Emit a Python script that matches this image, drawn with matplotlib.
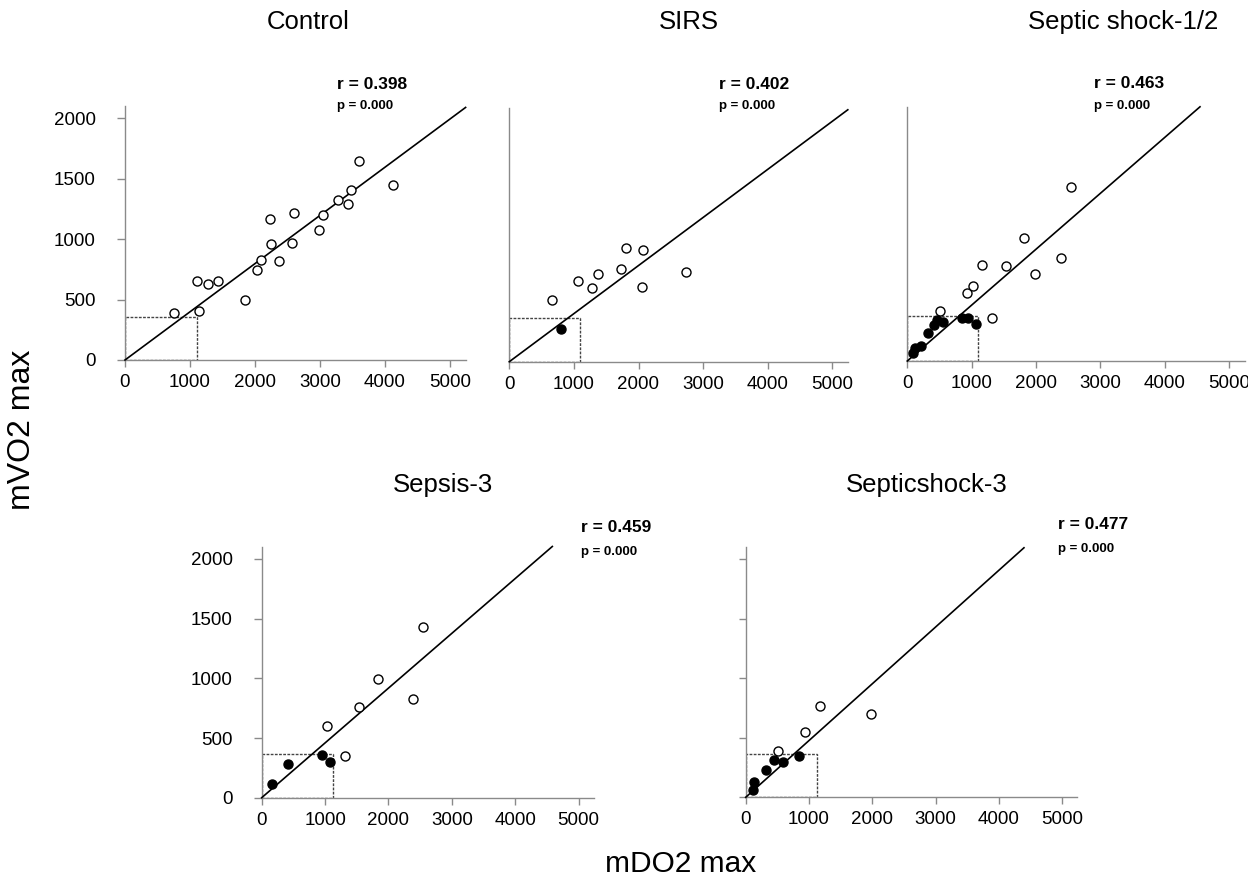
import matplotlib
matplotlib.use("Agg")
import matplotlib.pyplot as plt
from matplotlib.patches import Rectangle

plt.rcParams['font.family'] = ['Liberation Sans', 'DejaVu Sans']

W, H = 1248, 881

# ---------------- data ----------------
titles = ["Control", "SIRS", "Septic shock-1/2", "Sepsis-3", "Septicshock-3"]
r_labels = ["r = 0.398", "r = 0.402", "r = 0.463", "r = 0.459", "r = 0.477"]
p_labels = ["p = 0.000", "p = 0.000", "p = 0.000", "p = 0.000", "p = 0.000"]

control_open_x = [749, 1133, 1108, 1282, 1431, 1851, 2026, 2087, 2236, 2241, 2374, 2574, 2595, 2985, 3051, 3282, 3426, 3477, 3600, 4123]
control_open_y = [389, 408, 654, 629, 654, 494, 748, 828, 1170, 963, 820, 966, 1217, 1079, 1200, 1325, 1294, 1407, 1647, 1449]
control_fill_x = []
control_fill_y = []

sirs_open_x = [661, 1068, 1280, 1373, 1734, 1806, 2065, 2049, 2730]
sirs_open_y = [513, 671, 613, 726, 765, 938, 925, 616, 740]
sirs_fill_x = [800]
sirs_fill_y = [268]

ss12_open_x = [508, 922, 1020, 1165, 1320, 1528, 1812, 1988, 2387, 2547]
ss12_open_y = [411, 563, 623, 795, 356, 786, 1021, 720, 850, 1443]
ss12_fill_x = [93, 120, 213, 317, 420, 456, 559, 849, 948, 1071]
ss12_fill_y = [69, 110, 127, 234, 298, 339, 320, 359, 356, 306]

sep3_open_x = [1025, 1309, 1535, 1839, 2391, 2544]
sep3_open_y = [603, 349, 757, 997, 829, 1427]
sep3_fill_x = [162, 415, 951, 1072]
sep3_fill_y = [117, 282, 360, 296]

ss3_open_x = [510, 932, 1169, 1979]
ss3_open_y = [389, 546, 767, 700]
ss3_fill_x = [115, 136, 316, 452, 584, 847]
ss3_fill_y = [64, 126, 229, 313, 297, 344]

open_x = [control_open_x, sirs_open_x, ss12_open_x, sep3_open_x, ss3_open_x]
open_y = [control_open_y, sirs_open_y, ss12_open_y, sep3_open_y, ss3_open_y]
fill_x = [control_fill_x, sirs_fill_x, ss12_fill_x, sep3_fill_x, ss3_fill_x]
fill_y = [control_fill_y, sirs_fill_y, ss12_fill_y, sep3_fill_y, ss3_fill_y]

fit_slope = [0.399, 0.398, 0.463, 0.459, 0.477]
fit_xmax = [5240, 5240, 4545, 4584, 4396]

box_w = [1100, 1100, 1100, 1120, 1120]
box_h = [360, 365, 370, 370, 366]

x_ticks = [0, 1000, 2000, 3000, 4000, 5000]
y_ticks = [0, 500, 1000, 1500, 2000]
XMAX, YMAX = 5240, 2100

# ---------------- layout (pixels) ----------------
ax_geom = [
    (125.0, 360.0, 65.0, 60.4),
    (509.3, 361.7, 64.6, 60.4),
    (907.3, 361.0, 64.4, 60.4),
    (261.7, 797.7, 63.4, 59.7),
    (745.7, 797.3, 63.3, 59.5),
]
ytick_mode = ["label", "none", "none", "label", "ticks"]

title_pos = [(308, 29), (689, 29), (1123, 29), (443, 492), (927, 492)]
r_pos = [(337, 89), (719, 89), (1094, 88), (581, 532), (1058, 529)]
p_pos = [(337, 109), (719, 109), (1094, 109), (581, 555), (1058, 552)]

fig = plt.figure(figsize=(W / 100, H / 100), dpi=100)
fig.patch.set_facecolor('white')

def fx(px):
    return px / W

def fy(py):
    return 1 - py / H

gray = '#8a8a8a'
for i in range(5):
    left, bottom, sx, sy = ax_geom[i]
    width = XMAX / 1000 * sx
    height = YMAX / 500 * sy
    ax = fig.add_axes([fx(left), fy(bottom), width / W, height / H])
    ax.set_xlim(0, XMAX)
    ax.set_ylim(0, YMAX)
    for s in ['top', 'right']:
        ax.spines[s].set_visible(False)
    for s in ['left', 'bottom']:
        ax.spines[s].set_color(gray)
        ax.spines[s].set_linewidth(1.0)
    ax.set_xticks(x_ticks)
    ax.set_xticklabels([str(t) for t in x_ticks])
    ax.tick_params(axis='x', direction='out', length=5, width=1, color=gray,
                   labelsize=13.5, pad=5, labelcolor='black')
    if ytick_mode[i] == "label":
        ax.set_yticks(y_ticks)
        ax.set_yticklabels([str(t) for t in y_ticks])
        ax.tick_params(axis='y', direction='out', length=6, width=1, color=gray,
                       labelsize=13.5, pad=15, labelcolor='black')
    elif ytick_mode[i] == "ticks":
        ax.set_yticks(y_ticks)
        ax.set_yticklabels([])
        ax.tick_params(axis='y', direction='out', length=5, width=1, color=gray)
    else:
        ax.set_yticks([])

    ax.add_patch(Rectangle((0, 0), box_w[i], box_h[i], fill=False,
                           edgecolor='#444444', linewidth=1.0,
                           linestyle=(0, (2, 1)), zorder=2))
    ax.plot([0, fit_xmax[i]], [0, fit_slope[i] * fit_xmax[i]], color='black',
            linewidth=1.2, zorder=3, clip_on=False)
    ax.plot(open_x[i], open_y[i], linestyle='none', marker='o', markersize=6.5,
            markerfacecolor='white', markeredgecolor='black',
            markeredgewidth=1.0, zorder=4, clip_on=False)
    if fill_x[i]:
        ax.plot(fill_x[i], fill_y[i], linestyle='none', marker='o', markersize=6.5,
                markerfacecolor='black', markeredgecolor='black',
                markeredgewidth=1.0, zorder=5, clip_on=False)

    tx, ty = title_pos[i]
    fig.text(fx(tx), fy(ty), titles[i], ha='center', va='baseline', fontsize=18.5)
    rx, ry = r_pos[i]
    fig.text(fx(rx), fy(ry), r_labels[i], ha='left', va='baseline',
             fontsize=12.5, fontweight='bold')
    px_, py_ = p_pos[i]
    fig.text(fx(px_), fy(py_), p_labels[i], ha='left', va='baseline',
             fontsize=9.5, fontweight='bold')

fig.text(fx(22), fy(430), "mVO2 max", rotation=90, ha='center', va='center', fontsize=23)
fig.text(fx(681), fy(872), "mDO2 max", ha='center', va='baseline', fontsize=21.5)

fig.savefig("out.png", dpi=100, facecolor='white')
